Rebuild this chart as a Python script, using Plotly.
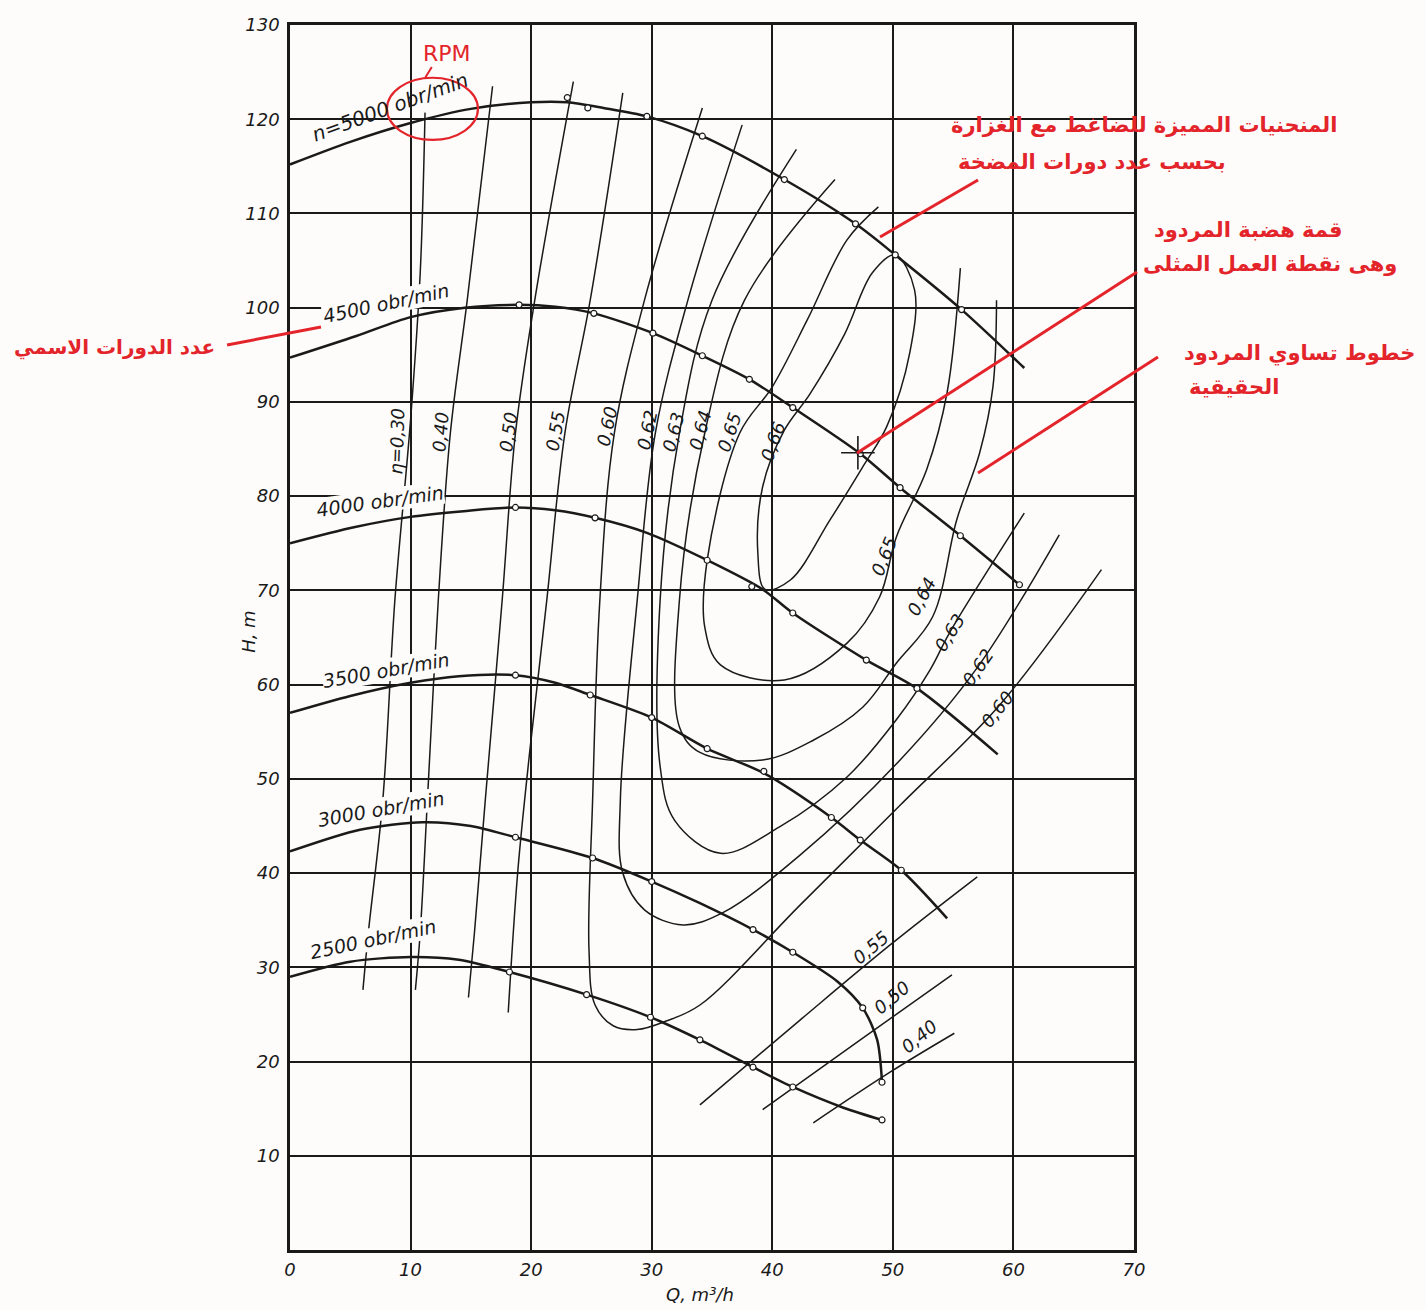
import plotly.graph_objects as go

# ---------------- data (Q in m3/h, H in m) ----------------
Q_5000 = [0, 5, 10, 15, 20, 23, 26, 29.6, 34.2, 41.0, 46.9, 50.2, 55.7, 60.9]
H_5000 = [115.2, 117.6, 119.6, 121.1, 121.8, 121.8, 121.2, 120.3, 118.2, 113.6, 108.9, 105.6, 99.8, 93.6]
Q_4500 = [0, 5.5, 10, 14.5, 19, 22, 25.2, 30.1, 34.2, 38.1, 41.7, 47.3, 50.6, 55.6, 60.5]
H_4500 = [94.7, 97.0, 99.0, 100.0, 100.3, 100.1, 99.4, 97.3, 94.9, 92.4, 89.4, 84.5, 80.9, 75.8, 70.6]
Q_4000 = [0, 5.3, 10, 14.4, 18.7, 22, 25.3, 29.6, 34.6, 39.2, 41.7, 47.8, 52.0, 58.7]
H_4000 = [75.0, 76.7, 77.8, 78.4, 78.8, 78.5, 77.7, 76.1, 73.2, 70.1, 67.6, 62.6, 59.6, 52.6]
Q_3500 = [0, 5, 10, 14, 18.7, 22, 24.9, 30.0, 34.6, 39.3, 44.9, 47.3, 50.7, 54.5]
H_3500 = [57.0, 58.8, 60.2, 60.9, 61.0, 60.2, 58.9, 56.5, 53.2, 50.6, 45.9, 43.5, 40.3, 35.2]
Q_3000 = [0, 5.8, 11, 15, 18.7, 25.1, 30.0, 34, 38.4, 41.7, 45.4, 47.5, 48.7, 49.1]
H_3000 = [42.3, 44.6, 45.4, 45.0, 43.8, 41.6, 39.1, 36.8, 34.0, 31.6, 28.5, 25.7, 22.3, 17.8]
Q_2500 = [0, 5, 10, 14, 18.2, 24.6, 29.9, 34.0, 38.4, 41.7, 45.9, 49.1]
H_2500 = [29.0, 30.6, 31.1, 30.8, 29.5, 27.1, 24.7, 22.3, 19.4, 17.3, 15.1, 13.8]

# measured points (small circles) on each speed curve
MQ_5000 = [23.0, 24.7, 29.6, 34.2, 41.0, 46.9, 50.2, 55.7]
MH_5000 = [122.3, 121.2, 120.3, 118.2, 113.6, 108.9, 105.6, 99.8]
MQ_4500 = [19.0, 25.2, 30.1, 34.2, 38.1, 41.7, 47.3, 50.6, 55.6, 60.5]
MH_4500 = [100.3, 99.4, 97.3, 94.9, 92.4, 89.4, 84.5, 80.9, 75.8, 70.6]
MQ_4000 = [18.7, 25.3, 34.6, 38.3, 41.7, 47.8, 52.0]
MH_4000 = [78.8, 77.7, 73.2, 70.4, 67.6, 62.6, 59.6]
MQ_3500 = [18.7, 24.9, 30.0, 34.6, 39.3, 44.9, 47.3, 50.7]
MH_3500 = [61.0, 58.9, 56.5, 53.2, 50.8, 45.9, 43.5, 40.3]
MQ_3000 = [18.7, 25.1, 30.0, 38.4, 41.7, 47.5, 49.1]
MH_3000 = [43.8, 41.6, 39.1, 34.0, 31.6, 25.7, 17.8]
MQ_2500 = [18.2, 24.6, 29.9, 34.0, 38.4, 41.7, 49.1]
MH_2500 = [29.5, 27.1, 24.7, 22.3, 19.4, 17.3, 13.8]

# optimum operating point
BEST_Q = [47.1]
BEST_H = [84.6]

# iso-efficiency lines (Q, H)
ETA_030 = [(11.2, 120.7), (10.8, 103.7), (10.0, 88.1), (8.7, 69.0), (7.7, 47.8), (6.5, 33.7), (6.05, 27.6)]
ETA_040 = [(16.8, 123.5), (14.7, 100.8), (13.3, 86.7), (12.3, 69.0), (11.4, 47.8), (10.8, 33.7), (10.4, 27.6)]
ETA_050 = [(23.5, 124.0), (20.3, 100.8), (18.7, 86.7), (17.6, 69.0), (16.2, 47.8), (15.3, 33.7), (14.8, 26.8)]
ETA_055 = [(27.6, 122.8), (24.9, 100.8), (22.8, 86.7), (21.3, 69.0), (19.9, 53.1), (18.9, 40.3), (18.1, 25.2)]
ETA_060 = [(34.2, 121.2), (29.4, 100.8), (26.9, 86.7), (25.7, 69.0), (25.1, 47.8), (24.8, 31.8), (25.3, 26.0),
           (26.8, 23.8), (28.8, 23.4), (31.2, 24.3), (34.0, 26.0), (42.3, 36.6), (50.6, 47.2), (58.9, 57.9), (67.3, 72.2)]
ETA_062 = [(37.5, 119.4), (33.0, 100.8), (30.3, 86.7), (28.8, 69.0), (27.4, 47.8), (27.6, 40.0), (29.4, 36.1),
           (32.6, 34.5), (35.9, 35.8), (42.3, 41.9), (50.6, 52.0), (57.0, 61.8), (63.8, 75.9)]
ETA_063 = [(42.0, 116.8), (35.0, 100.8), (32.3, 86.7), (30.7, 69.0), (30.7, 51.3), (31.9, 45.6), (35.7, 42.1),
           (40.6, 44.9), (46.2, 50.2), (50.3, 56.3), (53.1, 61.6), (54.7, 65.5), (60.9, 78.2)]
ETA_064 = [(45.2, 113.6), (37.7, 100.8), (34.4, 86.7), (32.3, 69.0), (32.3, 55.5), (34.0, 52.8), (39.2, 52.0),
           (43.4, 54.1), (47.5, 57.6), (50.3, 62.3), (53.3, 67.2), (55.3, 77.5), (57.2, 84.6), (58.3, 91.6), (58.6, 100.8)]
ETA_065 = [(48.8, 110.7), (46.2, 107.2), (42.9, 98.7), (40.0, 91.6), (37.3, 86.7), (34.6, 73.2), (34.4, 66.1),
           (35.7, 62.1), (41.0, 60.5), (46.2, 64.4), (48.9, 69.3), (50.3, 75.7), (52.8, 82.8), (54.5, 91.0), (55.6, 104.2)]
ETA_066 = [(50.2, 105.6), (51.8, 101.9), (51.4, 95.2), (49.5, 87.4), (47.5, 83.1), (44.8, 77.5), (41.5, 71.1),
           (39.4, 70.1), (38.8, 74.0), (39.2, 81.0), (41.0, 87.0), (43.1, 90.8), (46.0, 97.2), (48.3, 103.7), (50.2, 105.6)]
ETA_055R = [(34.0, 15.4), (42.3, 24.4), (49.8, 32.4), (57.0, 39.6)]
ETA_050R = [(39.2, 14.9), (47.3, 22.3), (54.9, 29.2)]
ETA_040R = [(43.4, 13.5), (49.8, 18.9), (55.1, 23.0)]

X_TICKS = [0, 10, 20, 30, 40, 50, 60, 70]
Y_TICKS = [10, 20, 30, 40, 50, 60, 70, 80, 90, 100, 110, 120, 130]

# ---------------- figure ----------------
INK = "#1a1a1a"
RED = "#e3242b"
BG = "#fdfcfa"
FONT = "DejaVu Sans"

fig = go.Figure()

for eta in [ETA_030, ETA_040, ETA_050, ETA_055, ETA_060, ETA_062, ETA_063, ETA_064,
            ETA_065, ETA_066, ETA_055R, ETA_050R, ETA_040R]:
    fig.add_trace(go.Scatter(x=[p[0] for p in eta], y=[p[1] for p in eta], mode="lines",
                             line=dict(color=INK, width=1.5, shape="spline", smoothing=1.0),
                             hoverinfo="skip", showlegend=False))

for q, h in [(Q_5000, H_5000), (Q_4500, H_4500), (Q_4000, H_4000),
             (Q_3500, H_3500), (Q_3000, H_3000), (Q_2500, H_2500)]:
    fig.add_trace(go.Scatter(x=q, y=h, mode="lines",
                             line=dict(color=INK, width=2.5, shape="spline", smoothing=0.8),
                             hoverinfo="skip", showlegend=False))

for q, h in [(MQ_5000, MH_5000), (MQ_4500, MH_4500), (MQ_4000, MH_4000),
             (MQ_3500, MH_3500), (MQ_3000, MH_3000), (MQ_2500, MH_2500)]:
    fig.add_trace(go.Scatter(x=q, y=h, mode="markers",
                             marker=dict(symbol="circle", size=6, color="white",
                                         line=dict(color=INK, width=1.2)),
                             hoverinfo="skip", showlegend=False))

fig.add_trace(go.Scatter(x=BEST_Q, y=BEST_H, mode="markers",
                         marker=dict(symbol="cross-thin", size=24, line=dict(color=INK, width=1.6)),
                         hoverinfo="skip", showlegend=False))

annotations = []

def lab(text, x, y, angle, size=17, bg=None):
    d = dict(text=text, x=x, y=y, xref="x", yref="y", showarrow=False, textangle=angle,
             font=dict(family=FONT, size=size, color=INK, style="italic"))
    if bg:
        d["bgcolor"] = bg
        d["borderpad"] = 0
    annotations.append(d)

# speed labels
lab("n=5000 obr/min", 8.3, 121.3, -20, 20)
lab("4500 obr/min", 8.0, 100.5, -12, 19, BG)
lab("4000 obr/min", 7.5, 79.5, -8, 19, BG)
lab("3500 obr/min", 8.0, 61.6, -10, 19, BG)
lab("3000 obr/min", 7.55, 46.8, -10, 19, BG)
lab("2500 obr/min", 6.9, 33.0, -12, 19, BG)

# efficiency labels
lab("η=0,30", 8.87, 85.9, -88, 18)
lab("0,40", 12.44, 86.8, -85, 18)
lab("0,50", 18.08, 86.8, -82, 18)
lab("0,55", 21.97, 86.9, -80, 18)
lab("0,60", 26.29, 87.4, -78, 18)
lab("0,62", 29.60, 87.0, -78, 18)
lab("0,63", 31.76, 86.8, -75, 18)
lab("0,64", 34.0, 87.0, -75, 18)
lab("0,65", 36.4, 86.8, -72, 18)
lab("0,66", 40.05, 85.8, -70, 18)
lab("0,65", 49.25, 73.6, -68, 18)
lab("0,64", 52.4, 69.3, -62, 18)
lab("0,63", 54.73, 65.5, -58, 18)
lab("0,62", 57.05, 61.8, -55, 18)
lab("0,60", 58.62, 57.4, -52, 18)
lab("0,55", 48.18, 32.06, -40, 18)
lab("0,50", 49.92, 26.75, -40, 18)
lab("0,40", 52.16, 22.7, -40, 18)

# red Arabic annotations (paper coordinates)
def red(text, x, y, size=21, bold=True):
    annotations.append(dict(text=text, x=x, y=y, xref="paper", yref="paper", showarrow=False,
                            xanchor="center", yanchor="middle",
                            font=dict(family=FONT, size=size, color=RED,
                                      weight="bold" if bold else "normal")))

red("المنحنيات المميزة للضاغط مع الغزارة", 1.0124, 0.9184)
red("بحسب عدد دورات المضخة", 0.9502, 0.8882)
red("قمة هضبة المردود", 1.1357, 0.8327)
red("وهى نقطة العمل المثلى", 1.1617, 0.8049)
red("خطوط تساوي المردود", 1.1961, 0.7322)
red("الحقيقية", 1.1179, 0.7045)
red("عدد الدورات الاسمي", -0.2085, 0.7371, 20)
red("RPM", 0.186, 0.9771, 22, False)

# axis titles
annotations.append(dict(text="H, m", x=-0.064, y=0.505, xref="paper", yref="paper", showarrow=False,
                        textangle=-90, font=dict(family=FONT, size=18, color=INK, style="italic")))
annotations.append(dict(text="Q, m³/h", x=0.486, y=-0.026, xref="paper", yref="paper", showarrow=False,
                        yanchor="top", font=dict(family=FONT, size=18, color=INK, style="italic")))

shapes = []
def red_line(x0, y0, x1, y1, w=3):
    shapes.append(dict(type="line", xref="paper", yref="paper", x0=x0, y0=y0, x1=x1, y1=y1,
                       line=dict(color=RED, width=w)))

red_line(-0.0746, 0.7388, 0.0367, 0.7535)
red_line(0.8152, 0.8735, 0.6991, 0.8269)
red_line(1.0036, 0.7984, 0.6718, 0.6506)
red_line(1.0284, 0.7290, 0.8152, 0.6343)
red_line(0.168, 0.9657, 0.160, 0.9567, 2)
shapes.append(dict(type="circle", xref="x", yref="y", x0=8.04, x1=15.59, y0=117.8, y1=124.4,
                   line=dict(color=RED, width=2.2)))

fig.update_layout(
    width=1426, height=1310,
    margin=dict(l=290, r=292, t=25, b=60),
    paper_bgcolor=BG, plot_bgcolor=BG,
    annotations=annotations, shapes=shapes,
    showlegend=False,
)
fig.update_xaxes(range=[0, 70], tickvals=X_TICKS, ticktext=[str(v) for v in X_TICKS],
                 showgrid=True, gridcolor=INK, gridwidth=1.8, zeroline=False,
                 showline=True, linecolor=INK, linewidth=2.6, mirror=True, ticks="",
                 ticklabelstandoff=2,
                 tickfont=dict(family=FONT, size=18, color=INK, style="italic"))
fig.update_yaxes(range=[0, 130], tickvals=Y_TICKS, ticktext=[str(v) for v in Y_TICKS],
                 showgrid=True, gridcolor=INK, gridwidth=1.8, zeroline=False,
                 showline=True, linecolor=INK, linewidth=2.6, mirror=True, ticks="",
                 ticklabelstandoff=4,
                 tickfont=dict(family=FONT, size=18, color=INK, style="italic"))

fig.write_html("out.html")
